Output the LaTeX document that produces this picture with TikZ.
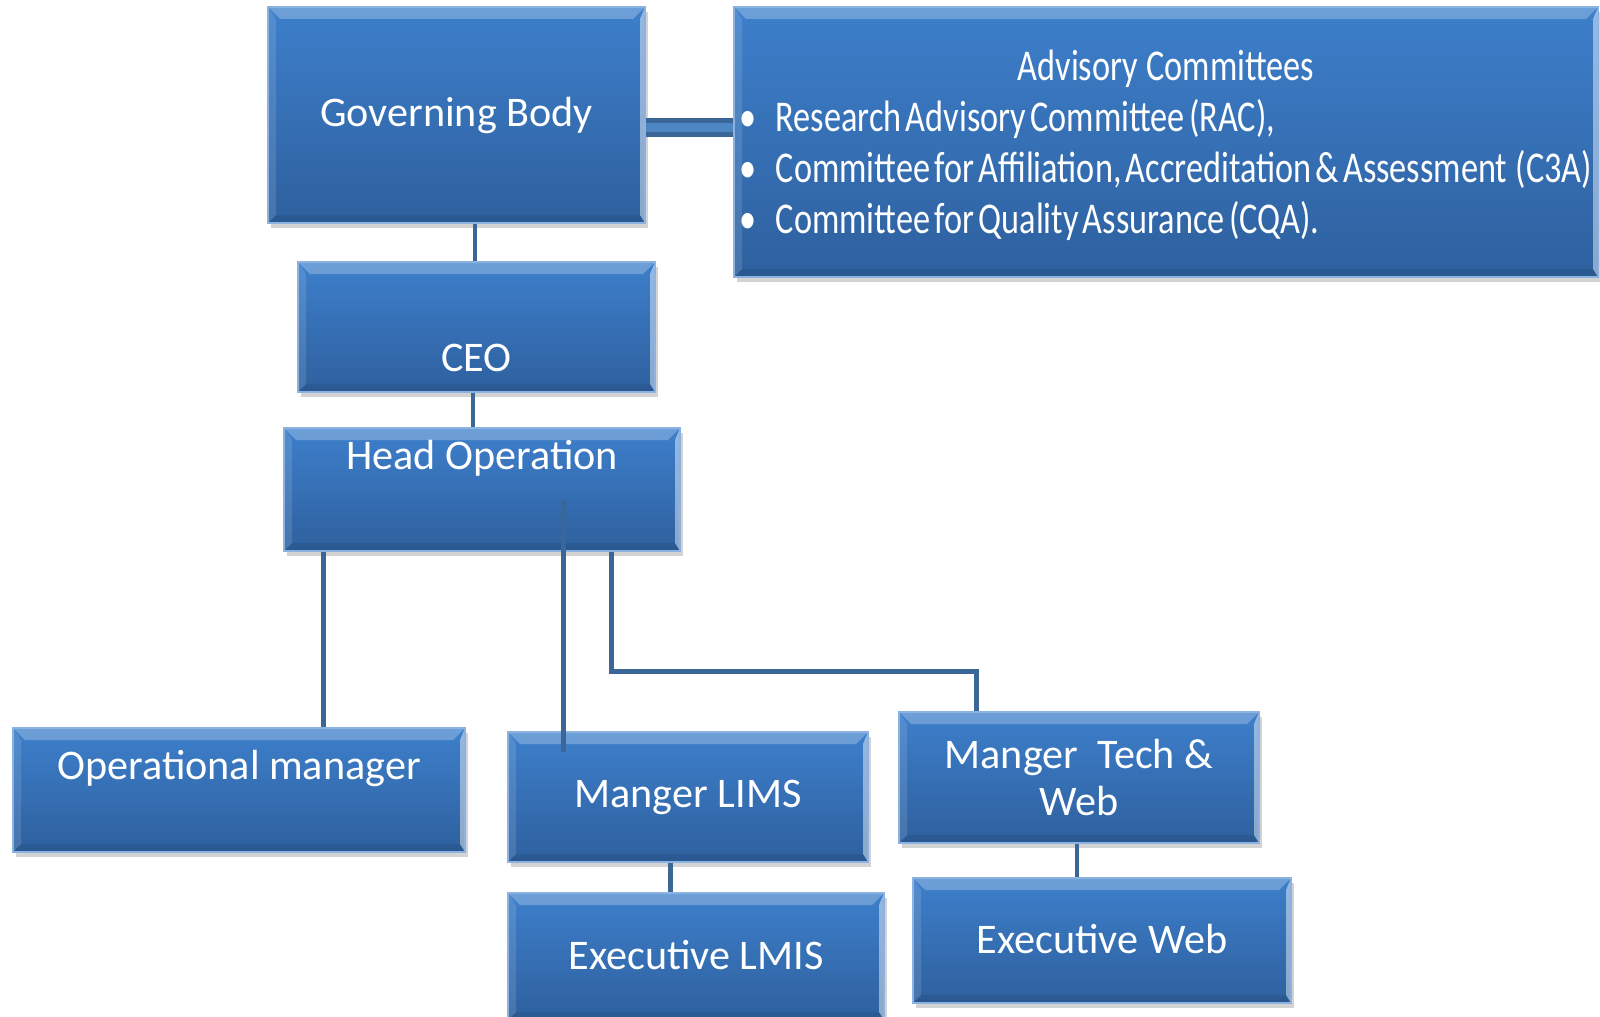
\documentclass[tikz,border=0pt]{standalone}
\usepackage{fontspec}
\setmainfont{Carlito}
\newfontfamily\advfont[FakeStretch=0.78, WordSpace=0.55]{Carlito}
\usetikzlibrary{positioning}
\usetikzlibrary{shadows}
\definecolor{boxtop}{HTML}{3D7FCB}
\definecolor{boxbot}{HTML}{2E609E}
\definecolor{linkblue}{HTML}{3A6698}
\definecolor{barlight}{HTML}{4E86C4}

\tikzset{
	boxlabel/.style={text=white, font=\fontsize{12}{13.5}\selectfont, inner sep=0pt},
	orgbox/.style={rectangle, top color=boxtop, bottom color=boxbot, draw=boxtop!60!white, line width=0.3pt,
		text=white, font=\fontsize{12}{13.5}\selectfont, inner sep=0pt, align=center,
		drop shadow={shadow xshift=0.03cm, shadow yshift=-0.05cm, opacity=0.35},
		path picture={
			\coordinate (bvnw) at (path picture bounding box.north west);
			\coordinate (bvne) at (path picture bounding box.north east);
			\coordinate (bvsw) at (path picture bounding box.south west);
			\coordinate (bvse) at (path picture bounding box.south east);
			\fill[white, opacity=0.25] (bvnw) -- (bvne) -- ++(-0.12,-0.12) -- ([shift={(0.12,-0.12)}]bvnw) -- cycle;
			\fill[white, opacity=0.12] (bvnw) -- ([shift={(0.08,-0.12)}]bvnw) -- ([shift={(0.08,0.08)}]bvsw) -- (bvsw) -- cycle;
			\fill[white, opacity=0.45] (bvne) -- ([shift={(-0.05,-0.12)}]bvne) -- ([shift={(-0.05,0.08)}]bvse) -- (bvse) -- cycle;
			\fill[black, opacity=0.08] (bvsw) -- (bvse) -- ([shift={(-0.05,0.08)}]bvse) -- ([shift={(0.08,0.08)}]bvsw) -- cycle;
		}},
	link/.style={draw=linkblue, line width=0.045cm}
}

\begin{document}
\begin{tikzpicture}
	\useasboundingbox (0,0) rectangle (16,-10.16);
	% boxes
	\node[orgbox, minimum width=3.77cm, minimum height=2.16cm] (gov) at (4.565,-1.15) {Governing Body};
	\node[orgbox, minimum width=8.64cm, minimum height=2.70cm] (adv) at (11.66,-1.42) {\advfont\fontsize{12.5}{14.5}\selectfont
		\raisebox{-0.05cm}[\height][\depth]{\begin{tabular}{@{}l@{}}
			\multicolumn{1}{@{}c@{}}{Advisory\ \ Committees}\\
			\makebox[0.36cm][l]{\textbullet}Research Advisory Committee (RAC),\\
			\makebox[0.36cm][l]{\textbullet}Committee for Affiliation, Accreditation \& Assessment \ (C3A)\\
			\makebox[0.36cm][l]{\textbullet}Committee for Quality Assurance (CQA).
		\end{tabular}}};
	\node[orgbox, minimum width=3.57cm, minimum height=1.30cm, label={[boxlabel, yshift=-0.31cm]center:CEO}] (ceo) at (4.765,-3.27) {};
	\node[orgbox, minimum width=3.96cm, minimum height=1.23cm, label={[boxlabel, yshift=0.315cm]center:Head Operation}] (head) at (4.82,-4.895) {};
	\node[orgbox, minimum width=4.52cm, minimum height=1.24cm, label={[boxlabel, yshift=0.22cm]center:Operational manager}] (opman) at (2.39,-7.90) {};
	\node[orgbox, minimum width=3.60cm, minimum height=1.30cm] (lims) at (6.88,-7.97) {Manger LIMS};
	\node[orgbox, minimum width=3.60cm, minimum height=1.31cm] (techweb) at (10.79,-7.775) {Manger \ Tech \&\\Web};
	\node[orgbox, minimum width=3.76cm, minimum height=1.27cm] (exlmis) at (6.96,-9.565) {\raisebox{0.03cm}{Executive LMIS}};
	\node[orgbox, minimum width=3.78cm, minimum height=1.25cm] (exweb) at (11.02,-9.405) {\raisebox{0.03cm}{Executive Web}};
	% links
	\draw[link, line width=0.05cm, double=barlight, double distance=0.09cm] ([yshift=-0.12cm]gov.east) -- ([yshift=-0.12cm]gov.east -| adv.west);
	\draw[link] ([xshift=-0.015cm]ceo.north) -- ([xshift=-0.015cm]ceo.north |- gov.south);
	\draw[link] ([xshift=-0.035cm]ceo.south) -- ([xshift=-0.035cm]ceo.south |- head.north);
	\draw[link] ([xshift=0.40cm]head.south west) -- ([xshift=0.40cm]head.south west |- opman.north);
	\draw[link] ([xshift=0.56cm, yshift=-0.21cm]lims.north west) -- ([xshift=0.56cm, yshift=-0.105cm]lims.north west |- head.center);
	\draw[link] ([xshift=3.28cm]head.south west) -- ++(0,-1.20) -| ([xshift=0.78cm]techweb.north west);
	\draw[link] ([xshift=1.63cm]lims.south west) -- ([xshift=1.63cm]lims.south west |- exlmis.north);
	\draw[link] ([xshift=-0.02cm]techweb.south) -- ([xshift=-0.02cm]techweb.south |- exweb.north);
\end{tikzpicture}
\end{document}
